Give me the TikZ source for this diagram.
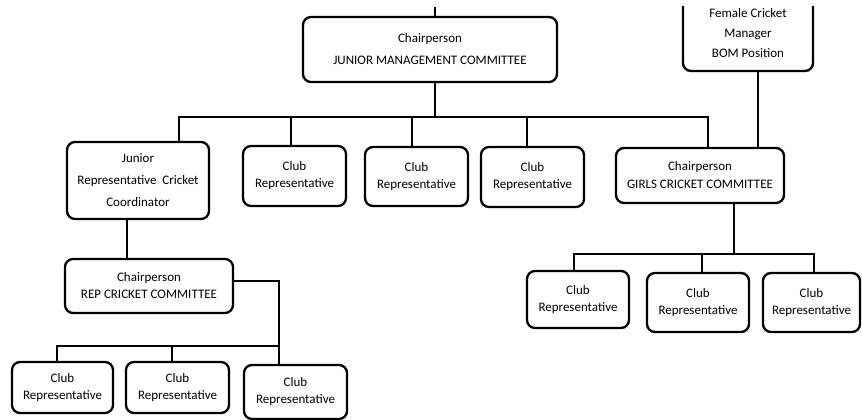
\documentclass[tikz,border=0pt]{standalone}
\usepackage{fontspec}
\setmainfont{Carlito}
\begin{document}
\begin{tikzpicture}[x=1pt,y=-1pt,
  box/.style={draw=black,line width=2.3pt,rounded corners=8pt,fill=white,align=center,inner sep=0pt,
    font=\fontsize{13}{17}\selectfont},
  conn/.style={line width=2.3pt,line cap=rect}]
\useasboundingbox (0,0) rectangle (862,420);
% top row
\node[box,minimum width=254pt,minimum height=65pt,font=\fontsize{13}{22}\selectfont] (jmc) at (430,49.5) {Chairperson\\JUNIOR MANAGEMENT COMMITTEE};
\begin{scope}
\clip (0,7) rectangle (862,420);
\node[box,minimum width=130pt,minimum height=76pt,font=\fontsize{13}{20}\selectfont] (fcm) at (748,33) {Female Cricket\\Manager\\BOM Position};
\coordinate (topend) at (435,7);
\draw[line width=2.3pt] (topend) -- (435,17);
\end{scope}
% second row
\node[box,minimum width=142pt,minimum height=77pt,font=\fontsize{13}{22}\selectfont] (jrc) at (138,180.5) {Junior\\Representative~ Cricket\\Coordinator};
\node[box,minimum width=103pt,minimum height=60pt] (c1) at (294.5,176) {Club\\Representative};
\node[box,minimum width=103pt,minimum height=59pt] (c2) at (416.5,176.5) {Club\\Representative};
\node[box,minimum width=103pt,minimum height=60pt] (c3) at (532.5,177) {Club\\Representative};
\node[box,minimum width=168pt,minimum height=55pt,font=\fontsize{13}{18}\selectfont] (gcc) at (700,175.5) {Chairperson\\GIRLS CRICKET COMMITTEE};
% rep committee
\node[box,minimum width=168pt,minimum height=54pt] (rep) at (149,286) {Chairperson\\REP CRICKET COMMITTEE};
\node[box,minimum width=101pt,minimum height=51pt] (b1) at (62.5,387.5) {Club\\Representative};
\node[box,minimum width=103pt,minimum height=51pt] (b2) at (177.5,387.5) {Club\\Representative};
\node[box,minimum width=103pt,minimum height=54pt] (b3) at (295.5,392) {Club\\Representative};
% girls committee
\node[box,minimum width=102pt,minimum height=57pt] (g1) at (578,299.5) {Club\\Representative};
\node[box,minimum width=102pt,minimum height=59pt] (g2) at (698,302.5) {Club\\Representative};
\node[box,minimum width=97pt,minimum height=59pt] (g3) at (811.5,302.5) {Club\\Representative};
% connectors
\coordinate (bus) at (435,117);
\draw[conn] (435,0 |- jmc.south) -- (bus);
\draw[conn] (179,0 |- jrc.north) |- (bus);
\draw[conn] (708,0 |- gcc.north) |- (bus);
\draw[conn] (291,0 |- c1.north) -- (291,117);
\draw[conn] (412,0 |- c2.north) -- (412,117);
\draw[conn] (527,0 |- c3.north) -- (527,117);
\draw[conn] (758,0 |- fcm.south) -- (758,0 |- gcc.north);
\draw[conn] (127,0 |- jrc.south) -- (127,0 |- rep.north);
\coordinate (rbus) at (279,346);
\draw[conn] (rep.east |- 0,281) -| (279,0 |- b3.north);
\draw[conn] (57,0 |- b1.north) |- (rbus);
\draw[conn] (172,0 |- b2.north) -- (172,346);
\coordinate (gbus) at (734,254);
\draw[conn] (734,0 |- gcc.south) -- (gbus);
\draw[conn] (574,0 |- g1.north) |- (814,254) -- (814,0 |- g3.north);
\draw[conn] (702,0 |- g2.north) -- (702,254);
\end{tikzpicture}
\end{document}
